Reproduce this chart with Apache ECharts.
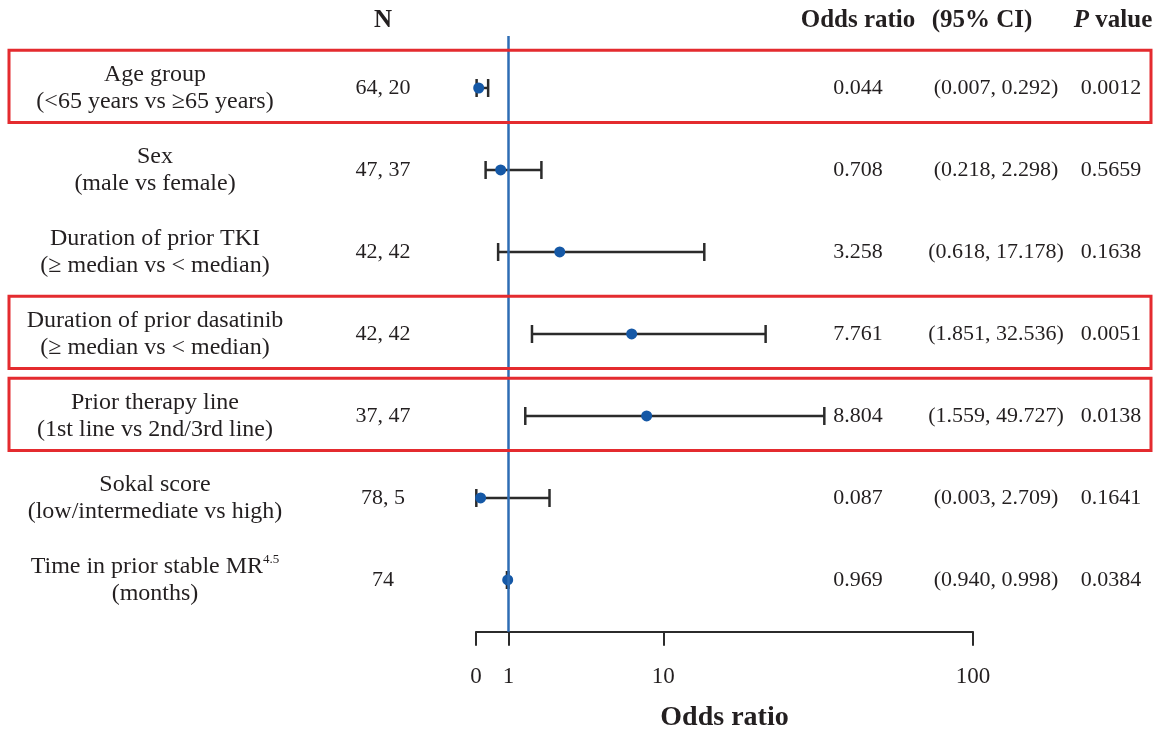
<!DOCTYPE html>
<html>
<head>
<meta charset="utf-8">
<script src="https://cdn.jsdelivr.net/npm/echarts@6/dist/echarts.min.js"></script>
<style>
  html, body { margin: 0; padding: 0; background: #ffffff; }
  #chart { width: 1155px; height: 732px; }
</style>
</head>
<body>
<div id="chart"></div>
<script>
// ---------------- data ----------------
const rowLabels = [
  ['Age group', '(<65 years vs \u226565 years)'],
  ['Sex', '(male vs female)'],
  ['Duration of prior TKI', '(\u2265 median vs < median)'],
  ['Duration of prior dasatinib', '(\u2265 median vs < median)'],
  ['Prior therapy line', '(1st line vs 2nd/3rd line)'],
  ['Sokal score', '(low/intermediate vs high)'],
  ['Time in prior stable MR', '(months)']
];
const rowSuperscripts = ['', '', '', '', '', '', '4.5'];
const nLabels = ['64, 20', '47, 37', '42, 42', '42, 42', '37, 47', '78, 5', '74'];
const oddsRatios = [0.044, 0.708, 3.258, 7.761, 8.804, 0.087, 0.969];
const ciLower = [0.007, 0.218, 0.618, 1.851, 1.559, 0.003, 0.940];
const ciUpper = [0.292, 2.298, 17.178, 32.536, 49.727, 2.709, 0.998];
const pValues = ['0.0012', '0.5659', '0.1638', '0.0051', '0.0138', '0.1641', '0.0384'];
const highlightedRows = [0, 3, 4];
const axisTickValues = [0, 1, 10, 100];
const axisTickLabels = ['0', '1', '10', '100'];

// ---------------- segmented power scale of the drawn axis ----------------
// each interval between ticks (0-1, 1-10, 10-100) has its own drawn width,
// and values inside an interval are placed with a power curve.
const segmentWidths = [0.21, 1, 2];
const segmentExponent = 0.8;
function toAxis(v) {
  let base = 0;
  for (let i = 0; i < segmentWidths.length; i++) {
    const lo = axisTickValues[i], hi = axisTickValues[i + 1];
    if (v <= hi || i === segmentWidths.length - 1) {
      const frac = Math.max(0, (v - lo) / (hi - lo));
      return base + Math.pow(frac, segmentExponent) * segmentWidths[i];
    }
    base += segmentWidths[i];
  }
  return base;
}
const axisTickPositions = axisTickValues.map(toAxis);
const axisMax = toAxis(100);

// ---------------- styling ----------------
const FONT = "'Liberation Serif', 'Times New Roman', serif";
const TEXT = '#231f20';
const rowIdx = rowLabels.map((_, i) => i);
const Y_MIN = -0.634, Y_MAX = 6.632;

function colAxis(offset, header, formatter, namePadding) {
  return {
    type: 'value', inverse: true, min: Y_MIN, max: Y_MAX, position: 'left', offset: offset,
    axisLine: { show: false }, axisTick: { show: false }, splitLine: { show: false },
    axisLabel: {
      customValues: rowIdx, margin: 0, align: 'center', verticalAlign: 'middle',
      fontFamily: FONT, fontSize: 22, color: TEXT, lineHeight: 27, formatter: formatter
    },
    name: header, nameLocation: 'start', nameGap: 15,
    nameTextStyle: {
      fontFamily: FONT, fontSize: 25, fontWeight: 'bold', color: TEXT,
      align: 'center', verticalAlign: 'middle', padding: namePadding || 0
    }
  };
}

const GRID_LEFT = 476, GRID_RIGHT = 182;
const idx = v => Math.round(Number(v));

const option = {
  animation: false,
  backgroundColor: '#ffffff',
  grid: { left: GRID_LEFT, right: GRID_RIGHT, top: 36, bottom: 100.2, containLabel: false, outerBoundsMode: 'none' },
  xAxis: {
    type: 'value', min: 0, max: axisMax,
    axisLine: { show: true, onZero: false, lineStyle: { color: '#2b2b2b', width: 2 } },
    axisTick: { show: true, customValues: axisTickPositions, length: 14, inside: false, lineStyle: { color: '#2b2b2b', width: 2 } },
    axisLabel: {
      customValues: axisTickPositions, margin: 34, fontFamily: FONT, fontSize: 23, color: TEXT,
      formatter: v => {
        const k = axisTickPositions.findIndex(p => Math.abs(p - v) < 1e-6);
        return k >= 0 ? axisTickLabels[k] : '';
      }
    },
    splitLine: { show: false },
    name: 'Odds ratio', nameLocation: 'middle', nameGap: 72,
    nameTextStyle: { fontFamily: FONT, fontSize: 28, fontWeight: 'bold', color: TEXT }
  },
  yAxis: [
    { type: 'value', inverse: true, min: Y_MIN, max: Y_MAX, show: false },
    colAxis(GRID_LEFT - 155, '', v => {
      const i = idx(v);
      const l = rowLabels[i];
      const sup = rowSuperscripts[i] ? '{s|' + rowSuperscripts[i] + '}' : '';
      return '{t|' + l[0] + '}' + sup + '\n{t|' + l[1] + '}';
    }),
    colAxis(GRID_LEFT - 383, 'N', v => nLabels[idx(v)]),
    colAxis(GRID_LEFT - 858, 'Odds ratio', v => oddsRatios[idx(v)].toFixed(3)),
    colAxis(GRID_LEFT - 996, '(95% CI)', v => '(' + ciLower[idx(v)].toFixed(3) + ', ' + ciUpper[idx(v)].toFixed(3) + ')', [0, 28, 0, 0]),
    colAxis(GRID_LEFT - 1111, '{i|P} value', v => pValues[idx(v)], [0, 0, 0, 4])
  ],
  series: [
    {
      type: 'custom', z: 1, xAxisIndex: 0, yAxisIndex: 0,
      data: rowIdx.map(i => [toAxis(ciLower[i]), toAxis(ciUpper[i]), i]),
      encode: { x: [0, 1], y: 2 },
      renderItem: (params, api) => {
        const a = api.coord([api.value(0), api.value(2)]);
        const b = api.coord([api.value(1), api.value(2)]);
        const cap = 9;
        const style = { stroke: '#2b2b2b', lineWidth: 2.5 };
        return {
          type: 'group',
          children: [
            { type: 'line', shape: { x1: a[0], y1: a[1], x2: b[0], y2: b[1] }, style: style },
            { type: 'line', shape: { x1: a[0], y1: a[1] - cap, x2: a[0], y2: a[1] + cap }, style: style },
            { type: 'line', shape: { x1: b[0], y1: b[1] - cap, x2: b[0], y2: b[1] + cap }, style: style }
          ]
        };
      }
    },
    {
      type: 'line', z: 2, data: [], silent: true,
      markLine: {
        silent: true, symbol: 'none', label: { show: false },
        lineStyle: { color: '#2e6db4', width: 2.5, type: 'solid' },
        data: [{ xAxis: toAxis(1) }]
      }
    },
    {
      type: 'scatter', z: 3, symbol: 'circle', symbolSize: 11,
      itemStyle: { color: '#1558a6', opacity: 1 },
      data: rowIdx.map(i => [toAxis(oddsRatios[i]), i])
    }
  ]
};

// rich styles for row labels (superscript) and header "P value"
option.yAxis[1].axisLabel.rich = {
  t: { fontFamily: FONT, fontSize: 24, color: TEXT, lineHeight: 27 },
  s: { fontFamily: FONT, fontSize: 13, color: TEXT, lineHeight: 27, verticalAlign: 'top', padding: [0, 0, 12, 0] }
};
option.yAxis[5].nameTextStyle.rich = {
  i: { fontFamily: FONT, fontSize: 25, fontWeight: 'bold', fontStyle: 'italic', color: TEXT }
};

const chart = echarts.init(document.getElementById('chart'), null, { renderer: 'canvas' });
chart.setOption(option);

// red highlight boxes around selected rows (vertical extent from the row scale)
const boxes = highlightedRows.map(i => {
  const top = chart.convertToPixel({ yAxisIndex: 0 }, i - 0.46);
  const bottom = chart.convertToPixel({ yAxisIndex: 0 }, i + 0.42);
  return {
    type: 'rect', z: 10, silent: true,
    shape: { x: 9, y: top, width: 1142, height: bottom - top },
    style: { fill: 'none', stroke: '#e42b2f', lineWidth: 3 }
  };
});
chart.setOption({ graphic: boxes });
</script>
</body>
</html>
